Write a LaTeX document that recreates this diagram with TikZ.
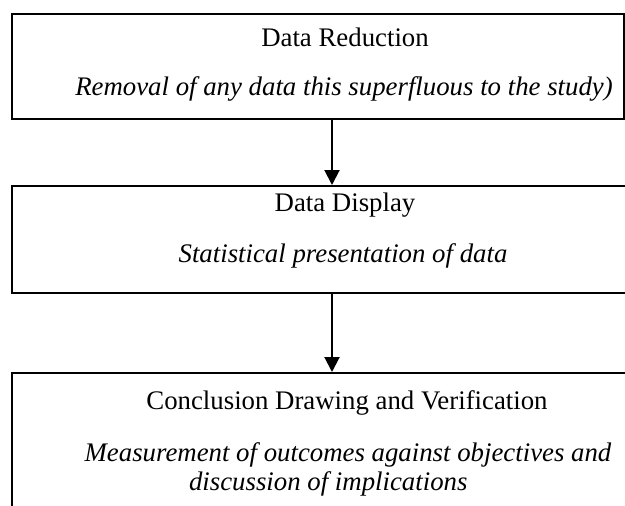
\documentclass[tikz,border=0pt]{standalone}
\usepackage{fontspec}
\setmainfont{Liberation Serif}
\usetikzlibrary{arrows.meta}
\usetikzlibrary{positioning}
\newcommand{\stagefont}{\fontsize{13.4pt}{16pt}\selectfont}

\begin{document}
\begin{tikzpicture}[x=0.5pt,y=-0.5pt]
\tikzset{stage/.style={draw=black,line width=1pt,rectangle,anchor=north west,inner sep=0pt}}
\tikzset{flow/.style={line width=1pt,-{Triangle[length=7.5pt,width=7.5pt]}}}
\useasboundingbox (0,0) rectangle (625,505);
\clip (0,0) rectangle (625,505);
\node[stage,minimum width=306pt,minimum height=52.5pt] (red) at (11,13) {};
\node[stage,minimum width=320pt,minimum height=53.5pt] (disp) at (11,185) {};
\node[stage,minimum width=320pt,minimum height=80pt] (concl) at (11,372) {};

\node[font=\stagefont,text=black, anchor=center] (redT) at (345,37) {Data Reduction};
\node[font=\stagefont\itshape,text=black, anchor=center] (redS) at (344,89) {Removal of any data this superfluous to the study)};
\node[font=\stagefont,text=black, anchor=center] (dispT) at (345,205) {Data Display};
\node[font=\stagefont\itshape,text=black, anchor=center] (dispS) at (343,256) {Statistical presentation of data};
\node[font=\stagefont,text=black, anchor=center] (conclT) at (347,403) {Conclusion Drawing and Verification};
\node[font=\stagefont\itshape,text=black, anchor=center] (conclS) at (348,455) {Measurement of outcomes against objectives and};
\node[font=\stagefont\itshape,text=black, anchor=west] (conclU) at (182,484) {discussion of implications};

\coordinate (ax) at (332,0);
\draw[flow] (red.south -| ax) -- (disp.north -| ax);
\draw[flow] (disp.south -| ax) -- (concl.north -| ax);
\end{tikzpicture}
\end{document}
